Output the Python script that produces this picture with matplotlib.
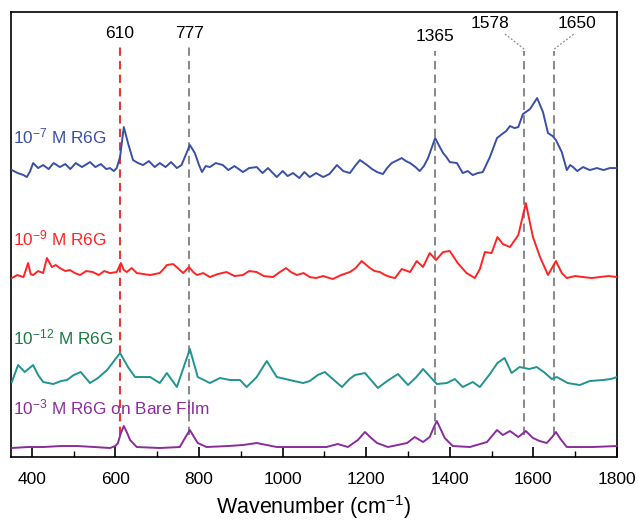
import matplotlib
matplotlib.use("Agg")
import matplotlib.pyplot as plt
from matplotlib.ticker import MultipleLocator

plt.rcParams['font.family'] = ['Liberation Sans', 'DejaVu Sans']
plt.rcParams['mathtext.fontset'] = 'custom'
plt.rcParams['mathtext.rm'] = 'Liberation Sans'
plt.rcParams['mathtext.it'] = 'Liberation Sans:italic'
plt.rcParams['mathtext.default'] = 'regular'

# ---- data (wavenumber, stacked intensity in arbitrary units) ----
blue_x = [352, 366, 380, 388, 396, 403, 415, 427, 440, 452, 467, 480, 492, 505, 520, 539, 552, 565, 578, 587,
          596, 603, 611, 620, 630, 642, 654, 666, 680, 694, 706, 720, 733, 747, 758, 766, 778, 790, 800, 807,
          816, 826, 840, 857, 870, 885, 905, 920, 938, 952, 965, 986, 1000, 1012, 1025, 1040, 1052, 1065,
          1080, 1097, 1112, 1130, 1145, 1161, 1175, 1185, 1202, 1214, 1226, 1240, 1250, 1261, 1285, 1295,
          1305, 1318, 1328, 1338, 1348, 1365, 1375, 1384, 1392, 1400, 1417, 1431, 1443, 1455, 1467, 1479,
          1496, 1513, 1525, 1535, 1544, 1555, 1564, 1575, 1582, 1592, 1609, 1623, 1635, 1646, 1654, 1668,
          1680, 1688, 1695, 1705, 1719, 1735, 1752, 1768, 1783, 1800]
blue_y = [287, 284, 282, 280, 286, 294, 289, 292, 288, 294, 290, 293, 288, 294, 290, 295, 290, 293, 288, 289,
          286, 289, 300, 330, 314, 297, 294, 292, 296, 290, 294, 290, 295, 289, 292, 300, 312, 304, 292, 285,
          291, 290, 294, 292, 287, 291, 285, 289, 290, 284, 289, 280, 286, 281, 284, 279, 285, 280,
          284, 280, 283, 292, 286, 284, 292, 297, 292, 288, 285, 283, 289, 294, 299, 296,
          294, 290, 286, 291, 299, 319, 311, 304, 300, 295, 294, 284, 286, 282, 284, 285,
          300, 319, 323, 326, 331, 329, 330, 343, 345, 348, 359, 345, 324, 321, 317, 305,
          287, 292, 290, 286, 290, 287, 289, 287, 289, 289]

red_x = [352, 365, 380, 391, 397, 403, 415, 427, 436, 448, 457, 467, 480, 491, 503, 515, 530, 546, 560, 573,
         587, 603, 613, 620, 627, 639, 651, 667, 683, 706, 715, 723, 738, 749, 762, 776, 786, 795, 810, 826,
         845, 866, 885, 905, 920, 938, 955, 977, 990, 1008, 1020, 1034, 1050, 1065, 1080, 1097, 1120, 1140,
         1161, 1175, 1189, 1209, 1220, 1233, 1245, 1258, 1269, 1285, 1305, 1321, 1336, 1352, 1367, 1384, 1400,
         1419, 1440, 1460, 1472, 1484, 1500, 1514, 1527, 1544, 1564, 1582, 1599, 1616, 1635, 1654, 1668,
         1680, 1700, 1719, 1740, 1759, 1780, 1800]
red_y = [179, 182, 180, 194, 183, 182, 186, 184, 199, 190, 192, 189, 186, 187, 184, 182, 186, 185, 182, 186,
         184, 185, 194, 187, 185, 189, 184, 183, 182, 184, 188, 192, 193, 189, 184, 190, 185, 182, 184, 180,
         183, 185, 181, 182, 186, 185, 181, 180, 184, 189, 185, 182, 184, 180, 179, 181, 178, 182,
         185, 189, 196, 189, 186, 185, 182, 180, 179, 188, 185, 196, 190, 204, 197, 205, 206,
         194, 184, 179, 188, 205, 204, 220, 213, 210, 222, 254, 220, 200, 182, 196, 184,
         179, 181, 180, 179, 180, 181, 180]

teal_x = [352, 367, 383, 403, 415, 427, 451, 470, 484, 500, 517, 539, 558, 580, 611, 630, 647, 666, 683, 706,
          723, 747, 778, 797, 826, 850, 874, 898, 914, 938, 962, 986, 1017, 1049, 1065, 1084, 1101, 1120,
          1142, 1160, 1173, 1197, 1228, 1250, 1276, 1300, 1320, 1336, 1369, 1393, 1412, 1431, 1455, 1472,
          1496, 1514, 1531, 1548, 1567, 1590, 1608, 1625, 1644, 1656, 1682, 1711, 1735, 1766, 1785, 1800]
teal_y = [75, 92, 85, 92, 82, 75, 73, 76, 77, 82, 85, 74, 79, 87, 104, 90, 80, 80, 80, 74,
          84, 70, 108, 80, 74, 79, 77, 77, 70, 80, 96, 80, 77, 74, 76, 82, 85, 78,
          70, 78, 82, 84, 69, 76, 83, 72, 80, 88, 73, 74, 78, 70, 75, 70,
          83, 94, 99, 84, 90, 88, 90, 85, 78, 80, 74, 72, 76, 77, 78, 80]

purple_x = [352, 390, 427, 470, 508, 550, 587, 600, 606, 613, 620, 628, 635, 651, 706, 754, 765, 778, 788, 797,
            818, 870, 905, 938, 986, 1065, 1105, 1132, 1156, 1180, 1197, 1212, 1226, 1252, 1298, 1316, 1336,
            1352, 1362, 1369, 1378, 1388, 1407, 1448, 1489, 1503, 1513, 1527, 1544, 1564, 1582, 1599, 1615,
            1632, 1645, 1654, 1665, 1680, 1742, 1800]
purple_y = [9, 10, 10, 11, 11, 10, 9, 11, 14, 24, 31, 24, 17, 10, 9, 10, 18, 27, 20, 14,
            10, 11, 12, 14, 10, 10, 10, 13, 10, 17, 25, 19, 14, 10, 14, 20, 15,
            20, 30, 36, 28, 19, 11, 10, 15, 22, 27, 22, 26, 20, 26, 19, 16,
            14, 20, 25, 18, 10, 10, 11]

series_labels = ['10$^{-7}$ M R6G', '10$^{-9}$ M R6G', '10$^{-12}$ M R6G', '10$^{-3}$ M R6G on Bare Film']
peak_positions = [610, 777, 1365, 1578, 1650]
peak_labels = ['610', '777', '1365', '1578', '1650']
xticks = [400, 600, 800, 1000, 1200, 1400, 1600, 1800]

# ---- figure ----
fig = plt.figure(figsize=(6.38, 5.25), dpi=100)
ax = fig.add_axes([0.0172, 0.1295, 0.9498, 0.8475])
ax.set_xlim(350, 1800)
ax.set_ylim(0, 445)

c_blue = '#3a4fa6'
c_red = '#ff2424'
c_teal = '#1f9490'
c_purple = '#8a2d9c'

# reference lines
ax.vlines(610, 22, 410, colors='#e33a3a', linestyles=(0, (4, 2.5)), linewidth=1.5, zorder=1)
ax.vlines(777, 22, 410, colors='#8c8c8c', linestyles=(0, (4, 2.5)), linewidth=1.5, zorder=1)
for p in peak_positions[2:]:
    ax.vlines(p, 22, 406, colors='#8c8c8c', linestyles=(0, (4, 2.5)), linewidth=1.5, zorder=1)

ax.plot(blue_x, blue_y, color=c_blue, lw=1.4, zorder=3)
ax.plot(red_x, red_y, color=c_red, lw=1.4, zorder=3)
ax.plot(teal_x, teal_y, color=c_teal, lw=1.4, zorder=3)
ax.plot(purple_x, purple_y, color=c_purple, lw=1.4, zorder=3)

# peak labels
fs_peak = 12.5
ax.text(611, 424, peak_labels[0], ha='center', va='center', fontsize=fs_peak)
ax.text(777, 424, peak_labels[1], ha='center', va='center', fontsize=fs_peak)
ax.text(1365, 421, peak_labels[2], ha='center', va='center', fontsize=fs_peak)
ax.text(1496, 434, peak_labels[3], ha='center', va='center', fontsize=fs_peak)
ax.text(1704, 434, peak_labels[4], ha='center', va='center', fontsize=fs_peak)
ax.plot([1578, 1529], [408, 424], color='#8c8c8c', lw=0.9, ls=(0, (1.5, 1.5)))
ax.plot([1650, 1700], [408, 424], color='#8c8c8c', lw=0.9, ls=(0, (1.5, 1.5)))

# series labels
fs_lab = 12.4
ax.text(356, 321, series_labels[0], color=c_blue, fontsize=fs_lab, va='center', ha='left')
ax.text(356, 219, series_labels[1], color=c_red, fontsize=fs_lab, va='center', ha='left')
ax.text(356, 120, series_labels[2], color='#1c7a44', fontsize=fs_lab, va='center', ha='left')
ax.text(356, 50, series_labels[3], color=c_purple, fontsize=fs_lab, va='center', ha='left')

# axes styling
ax.set_xticks(xticks)
ax.xaxis.set_minor_locator(MultipleLocator(100))
ax.tick_params(axis='x', which='major', direction='in', length=7, width=1.2, labelsize=12.5, pad=11)
ax.tick_params(axis='x', which='minor', direction='in', length=4, width=1.0)
ax.set_yticks([])
for s in ax.spines.values():
    s.set_linewidth(1.2)
ax.set_xlabel('Wavenumber (cm$^{-1}$)', fontsize=15.5, labelpad=4)

fig.savefig('out.png', dpi=100)
